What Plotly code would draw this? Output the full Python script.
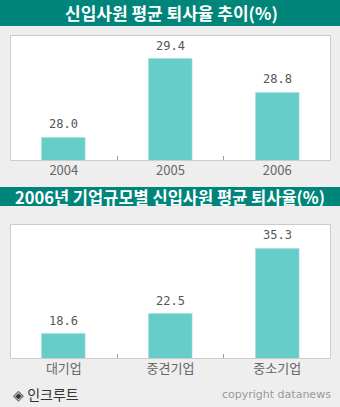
import plotly.graph_objects as go

# Data
years = ["2004", "2005", "2006"]
rates_year = [28.0, 29.4, 28.8]
sizes = ["대기업", "중견기업", "중소기업"]
rates_size = [18.6, 22.5, 35.3]

title1 = "신입사원 평균 퇴사율 추이(%)"
title2 = "2006년 기업규모별 신입사원 평균 퇴사율(%)"

W, H = 340, 407
BAR = "#66cdc8"
TEAL = "#00857a"
KR = "Noto Sans CJK KR"

def py(px):
    return 1 - px / H

fig = go.Figure()
fig.add_trace(go.Bar(x=years, y=rates_year, marker_color=BAR, width=0.41,
                     xaxis="x", yaxis="y", hoverinfo="skip"))
fig.add_trace(go.Bar(x=sizes, y=rates_size, marker_color=BAR, width=0.41,
                     xaxis="x2", yaxis="y2", hoverinfo="skip"))

annotations = []
for i, v in enumerate(rates_year):
    annotations.append(dict(x=i, y=v, xref="x", yref="y", text=f"{v:.1f}",
                            showarrow=False, yanchor="bottom", yshift=4,
                            font=dict(family="DejaVu Sans Mono", size=12, color="#555555")))
for i, v in enumerate(rates_size):
    annotations.append(dict(x=i, y=v, xref="x2", yref="y2", text=f"{v:.1f}",
                            showarrow=False, yanchor="bottom", yshift=4,
                            font=dict(family="DejaVu Sans Mono", size=12, color="#555555")))

annotations += [
    dict(x=171 / W, y=py(13), xref="paper", yref="paper", text=f"<b>{title1}</b>",
         showarrow=False, xanchor="center", yanchor="middle",
         font=dict(family=KR, size=17, color="white")),
    dict(x=170 / W, y=py(196.5), xref="paper", yref="paper", text=f"<b>{title2}</b>",
         showarrow=False, xanchor="center", yanchor="middle",
         font=dict(family=KR, size=16.5, color="white")),
    dict(x=11 / W, y=py(394), xref="paper", yref="paper", text="◈ 인크루트",
         showarrow=False, xanchor="left", yanchor="middle",
         font=dict(family=KR, size=14, color="#333333")),
    dict(x=333 / W, y=py(394), xref="paper", yref="paper", text="copyright datanews",
         showarrow=False, xanchor="right", yanchor="middle",
         font=dict(family="DejaVu Sans", size=11, color="#999999")),
]

shapes = [
    dict(type="rect", xref="paper", yref="paper", x0=0, x1=1, y0=py(26), y1=1,
         fillcolor=TEAL, line_width=0, layer="below"),
    dict(type="rect", xref="paper", yref="paper", x0=0, x1=1, y0=py(206), y1=py(187),
         fillcolor=TEAL, line_width=0, layer="below"),
    dict(type="rect", xref="paper", yref="paper", x0=10.5 / W, x1=330.5 / W,
         y0=py(160.5), y1=py(35.5), fillcolor="rgba(0,0,0,0)",
         line=dict(color="#cccccc", width=1), layer="above"),
    dict(type="rect", xref="paper", yref="paper", x0=10.5 / W, x1=330.5 / W,
         y0=py(358.5), y1=py(224.5), fillcolor="rgba(0,0,0,0)",
         line=dict(color="#cccccc", width=1), layer="above"),
]

xcommon = dict(type="category", range=[-0.5, 2.5], domain=[10.5 / W, 330.5 / W],
               tickson="boundaries", ticks="inside", ticklen=5, tickcolor="#999999",
               showline=False, showgrid=False,
               tickfont=dict(family=KR, size=13, color="#666666"), fixedrange=True)
ycommon = dict(showticklabels=False, showgrid=False, zeroline=False, ticks="",
               showline=False, fixedrange=True)

fig.update_layout(
    width=W, height=H, margin=dict(l=0, r=0, t=0, b=0),
    paper_bgcolor="#eeeeee", plot_bgcolor="white", showlegend=False,
    xaxis=dict(**xcommon, anchor="y"),
    yaxis=dict(**ycommon, domain=[py(160.5), py(35.5)], range=[27.59, 29.81], anchor="x"),
    xaxis2=dict(**xcommon, anchor="y2"),
    yaxis2=dict(**ycommon, domain=[py(358.5), py(224.5)], range=[13.7, 40.0], anchor="x2"),
    annotations=annotations, shapes=shapes, bargap=0,
)

fig.write_html("out.html")
